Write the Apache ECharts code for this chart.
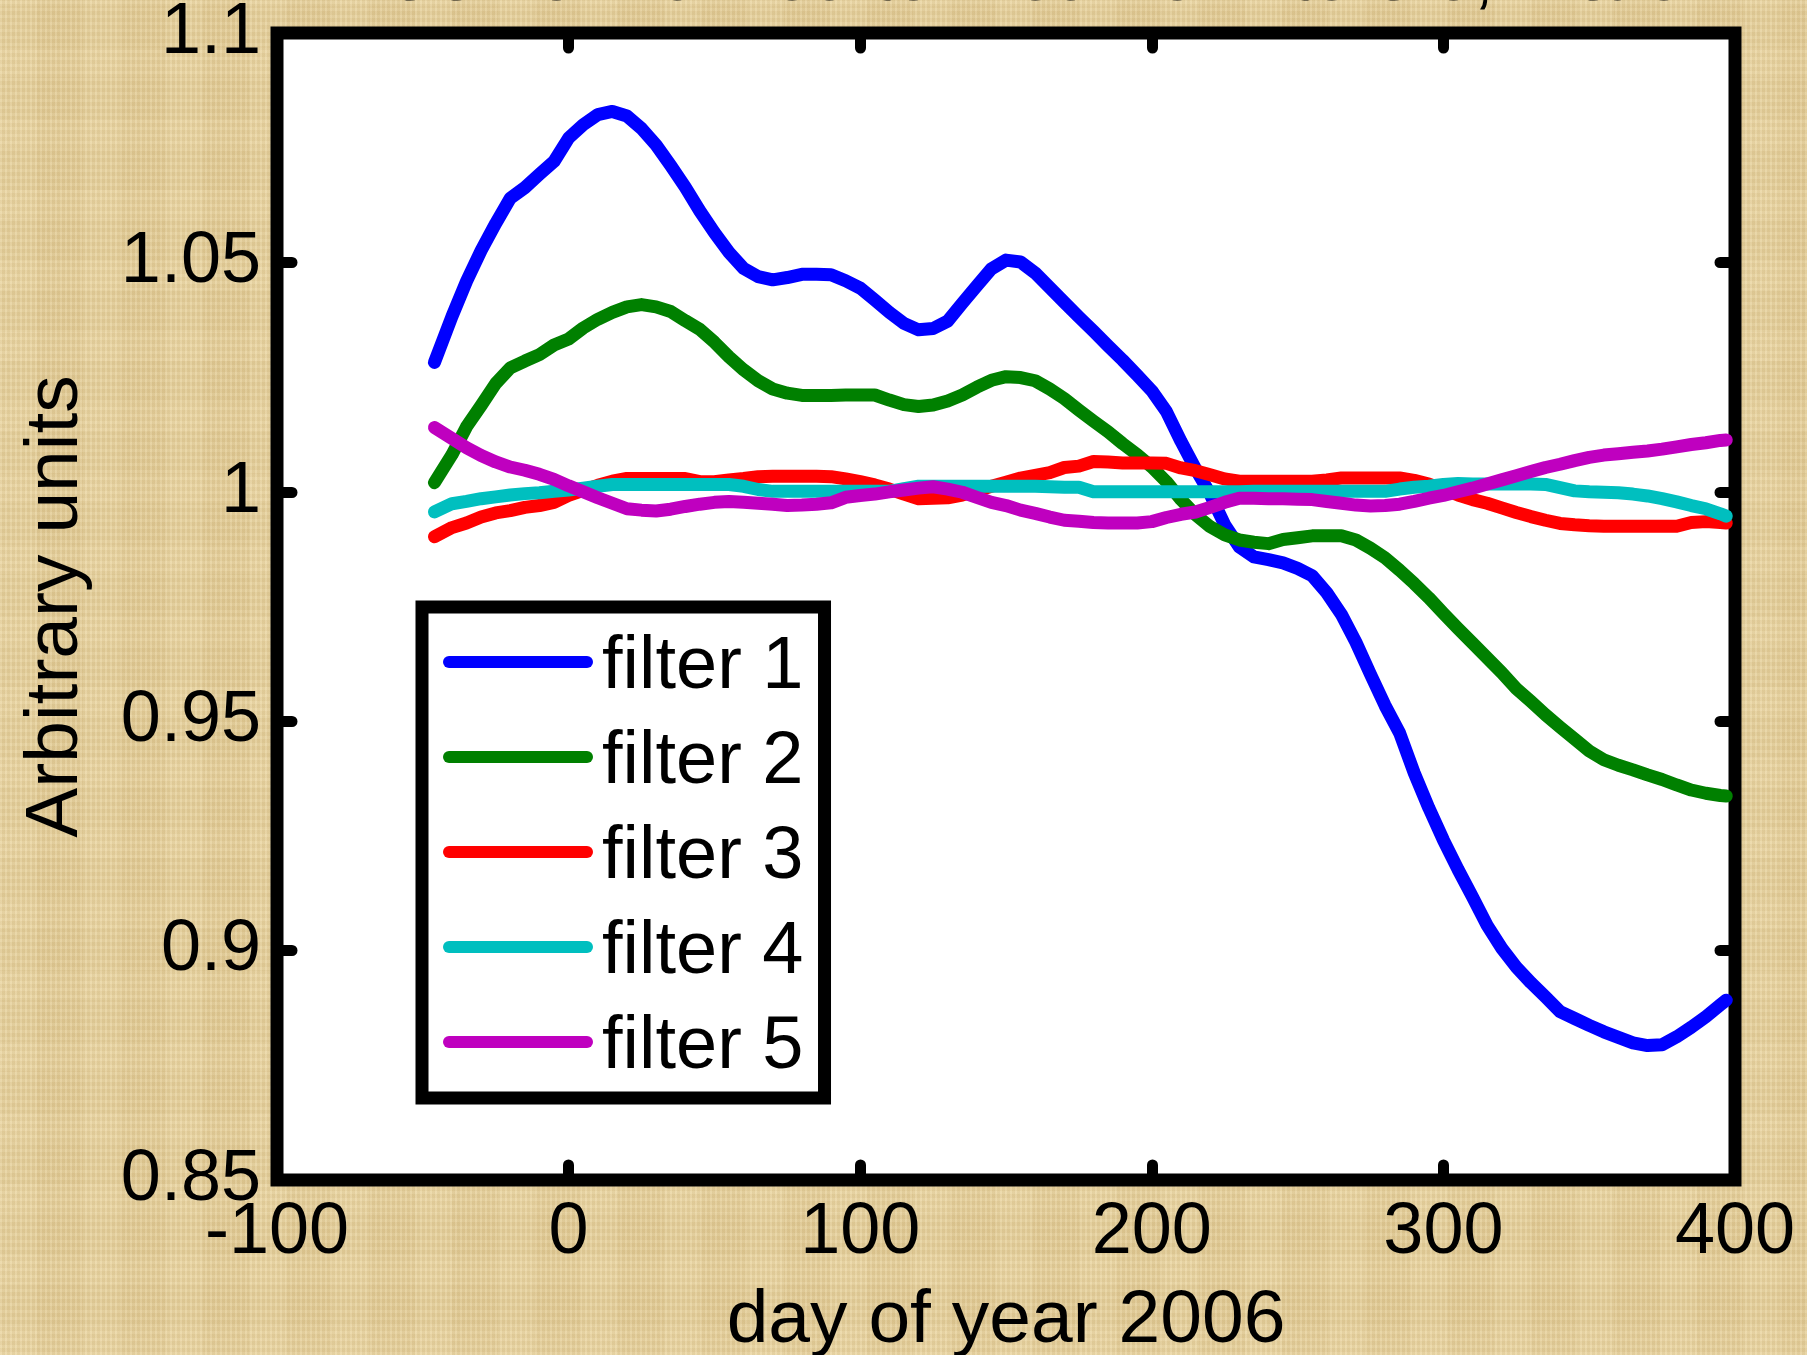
<!DOCTYPE html>
<html>
<head>
<meta charset="utf-8">
<script src="https://cdn.jsdelivr.net/npm/echarts@6/dist/echarts.min.js"></script>
<style>
html, body { margin: 0; padding: 0; }
body {
  width: 1807px; height: 1355px; overflow: hidden;
  background-color: #e7d19d;
  background-image:
    repeating-linear-gradient(90deg, rgba(255,250,230,0.10) 0px, rgba(255,250,230,0.10) 2px, rgba(120,90,30,0.05) 2px, rgba(120,90,30,0.05) 5px),
    repeating-linear-gradient(0deg, rgba(255,250,230,0.08) 0px, rgba(255,250,230,0.08) 3px, rgba(120,90,30,0.04) 3px, rgba(120,90,30,0.04) 7px),
    repeating-linear-gradient(90deg, rgba(255,245,215,0.05) 0px, rgba(255,245,215,0.05) 37px, rgba(150,115,50,0.03) 37px, rgba(150,115,50,0.03) 83px),
    repeating-linear-gradient(0deg, rgba(255,245,215,0.04) 0px, rgba(255,245,215,0.04) 29px, rgba(150,115,50,0.03) 29px, rgba(150,115,50,0.03) 71px);
}
#chart { width: 1807px; height: 1355px; }
</style>
</head>
<body>
<div id="chart"></div>
<script>
// ---- data ----
var titleText = 'FOs normalized to mean of filters 3, 4 & 5';
var xName = 'day of year 2006';
var yName = 'Arbitrary units';
var seriesNames = ['filter 1', 'filter 2', 'filter 3', 'filter 4', 'filter 5'];

var days = [
  -46, -40, -35, -30, -25, -20, -15, -10, -5, 0,
  5, 10, 15, 20, 25, 30, 35, 40, 45, 50,
  55, 60, 65, 70, 75, 80, 85, 90, 95, 100,
  105, 110, 115, 120, 125, 130, 135, 140, 145, 150,
  155, 160, 165, 170, 175, 180, 185, 190, 195, 200,
  205, 210, 215, 220, 225, 230, 235, 240, 245, 250,
  255, 260, 265, 270, 275, 280, 285, 290, 295, 300,
  305, 310, 315, 320, 325, 330, 335, 340, 345, 350,
  355, 360, 365, 370, 375, 380, 385, 390, 395, 397
];

var filter1 = [
  1.0282, 1.0382, 1.0459, 1.0526, 1.0585, 1.0640, 1.0663, 1.0692, 1.0720, 1.0771,
  1.0800, 1.0822, 1.0829, 1.0819, 1.0792, 1.0756, 1.0711, 1.0664, 1.0612, 1.0565,
  1.0522, 1.0487, 1.0469, 1.0462, 1.0467, 1.0474, 1.0474, 1.0473, 1.0460, 1.0444,
  1.0418, 1.0391, 1.0367, 1.0353, 1.0356, 1.0372, 1.0411, 1.0449, 1.0486, 1.0505,
  1.0501, 1.0477, 1.0445, 1.0413, 1.0381, 1.0350, 1.0318, 1.0287, 1.0254, 1.0220,
  1.0175, 1.0110, 1.0050, 0.9995, 0.9928, 0.9880, 0.9858, 0.9852, 0.9845, 0.9833,
  0.9817, 0.9780, 0.9733, 0.9672, 0.9602, 0.9534, 0.9474, 0.9387, 0.9311, 0.9241,
  0.9177, 0.9117, 0.9055, 0.9005, 0.8964, 0.8930, 0.8899, 0.8867, 0.8852, 0.8837,
  0.8823, 0.8811, 0.8799, 0.8793, 0.8795, 0.8812, 0.8833, 0.8856, 0.8882, 0.8892
];
var filter2 = [
  1.0020, 1.0081, 1.0142, 1.0188, 1.0236, 1.0270, 1.0285, 1.0299, 1.0320, 1.0333,
  1.0357, 1.0376, 1.0391, 1.0403, 1.0408, 1.0403, 1.0393, 1.0373, 1.0354, 1.0326,
  1.0294, 1.0266, 1.0242, 1.0224, 1.0215, 1.0210, 1.0210, 1.0210, 1.0211, 1.0211,
  1.0211, 1.0200, 1.0190, 1.0186, 1.0189, 1.0198, 1.0211, 1.0228, 1.0243, 1.0251,
  1.0249, 1.0242, 1.0224, 1.0203, 1.0178, 1.0154, 1.0131, 1.0105, 1.0081, 1.0054,
  1.0022, 0.9983, 0.9950, 0.9924, 0.9906, 0.9895, 0.9890, 0.9887, 0.9896, 0.9900,
  0.9904, 0.9904, 0.9904, 0.9895, 0.9877, 0.9856, 0.9829, 0.9800, 0.9769, 0.9735,
  0.9702, 0.9670, 0.9638, 0.9606, 0.9571, 0.9543, 0.9514, 0.9487, 0.9461, 0.9435,
  0.9416, 0.9404, 0.9394, 0.9383, 0.9373, 0.9361, 0.9350, 0.9343, 0.9338, 0.9337
];
var filter3 = [
  0.9902, 0.9922, 0.9932, 0.9945, 0.9954, 0.9959, 0.9966, 0.9970, 0.9977, 0.9992,
  1.0003, 1.0014, 1.0023, 1.0029, 1.0029, 1.0029, 1.0029, 1.0029, 1.0022, 1.0022,
  1.0026, 1.0029, 1.0033, 1.0034, 1.0034, 1.0034, 1.0034, 1.0033, 1.0028, 1.0022,
  1.0015, 1.0006, 0.9995, 0.9985, 0.9986, 0.9987, 0.9993, 1.0002, 1.0012, 1.0021,
  1.0030, 1.0036, 1.0042, 1.0053, 1.0056, 1.0066, 1.0065, 1.0063, 1.0063, 1.0063,
  1.0062, 1.0052, 1.0046, 1.0037, 1.0028, 1.0023, 1.0023, 1.0023, 1.0023, 1.0023,
  1.0023, 1.0026, 1.0030, 1.0030, 1.0030, 1.0030, 1.0030, 1.0025, 1.0017, 1.0005,
  0.9993, 0.9983, 0.9975, 0.9965, 0.9955, 0.9946, 0.9938, 0.9931, 0.9928, 0.9926,
  0.9925, 0.9925, 0.9925, 0.9925, 0.9925, 0.9925, 0.9933, 0.9935, 0.9933, 0.9932
];
var filter4 = [
  0.9956, 0.9974, 0.9979, 0.9985, 0.9989, 0.9993, 0.9996, 0.9998, 1.0001, 1.0004,
  1.0008, 1.0012, 1.0016, 1.0016, 1.0016, 1.0016, 1.0016, 1.0016, 1.0016, 1.0016,
  1.0016, 1.0012, 1.0005, 1.0001, 1.0001, 1.0001, 1.0001, 1.0001, 1.0001, 1.0001,
  1.0001, 1.0001, 1.0007, 1.0012, 1.0012, 1.0012, 1.0012, 1.0012, 1.0012, 1.0012,
  1.0012, 1.0012, 1.0011, 1.0010, 1.0010, 1.0000, 1.0000, 1.0000, 1.0000, 1.0000,
  1.0000, 1.0000, 1.0000, 1.0000, 1.0000, 1.0000, 1.0001, 1.0001, 1.0001, 1.0001,
  1.0001, 1.0001, 1.0001, 1.0001, 1.0001, 1.0001, 1.0006, 1.0010, 1.0012, 1.0016,
  1.0018, 1.0017, 1.0017, 1.0017, 1.0017, 1.0017, 1.0016, 1.0009, 1.0002, 1.0000,
  0.9999, 0.9998, 0.9995, 0.9991, 0.9985, 0.9978, 0.9970, 0.9963, 0.9952, 0.9947
];
var filter5 = [
  1.0140, 1.0116, 1.0096, 1.0079, 1.0065, 1.0054, 1.0047, 1.0038, 1.0027, 1.0013,
  1.0000, 0.9987, 0.9975, 0.9963, 0.9960, 0.9958, 0.9962, 0.9968, 0.9973, 0.9977,
  0.9979, 0.9977, 0.9975, 0.9973, 0.9970, 0.9971, 0.9973, 0.9976, 0.9988, 0.9992,
  0.9995, 1.0000, 1.0004, 1.0008, 1.0011, 1.0006, 0.9999, 0.9988, 0.9977, 0.9970,
  0.9960, 0.9953, 0.9945, 0.9938, 0.9936, 0.9933, 0.9932, 0.9932, 0.9932, 0.9935,
  0.9944, 0.9951, 0.9956, 0.9966, 0.9977, 0.9986, 0.9986, 0.9985, 0.9985, 0.9984,
  0.9983, 0.9979, 0.9975, 0.9971, 0.9969, 0.9970, 0.9973, 0.9979, 0.9986, 0.9992,
  1.0000, 1.0008, 1.0017, 1.0026, 1.0035, 1.0044, 1.0053, 1.0060, 1.0068, 1.0075,
  1.0080, 1.0083, 1.0086, 1.0089, 1.0093, 1.0098, 1.0103, 1.0107, 1.0112, 1.0113
];

var xTicks = { min: -100, max: 400, interval: 100 };
var yTicks = { min: 0.85, max: 1.1, interval: 0.05 };
var colors = ['#0000ff', '#008000', '#ff0000', '#00bfbf', '#bf00bf'];

// ---- chart ----
var FONT = '"Liberation Sans", Arial, Helvetica, sans-serif';
var allValues = [filter1, filter2, filter3, filter4, filter5];

function pairs(vals) {
  return days.map(function (d, i) { return [d, vals[i]]; });
}
function tickStyle() {
  return { show: true, inside: true, length: 15, lineStyle: { color: '#000', width: 11, cap: 'round' } };
}
function noLine() { return { show: false, onZero: false }; }

// legend swatch: a rounded bar in the upper half of a 150x24 box
var legendIcon = 'path://M6,0 L144,0 A6,6 0 0 1 144,12 L6,12 A6,6 0 0 1 6,0 Z M0,0 L0,0 M150,24 L150,24';

var chart = echarts.init(document.getElementById('chart'), null, { renderer: 'canvas' });
chart.setOption({
  backgroundColor: 'transparent',
  animation: false,
  color: colors,
  title: {
    text: titleText,
    left: 1006,
    textAlign: 'center',
    top: -62,
    textStyle: { fontFamily: FONT, fontSize: 73, fontWeight: 'normal', color: '#000' }
  },
  grid: {
    left: 277, right: 72, top: 33, bottom: 175,
    containLabel: false,
    outerBoundsMode: 'none',
    show: true,
    backgroundColor: '#ffffff',
    borderColor: '#000000',
    borderWidth: 13
  },
  legend: {
    orient: 'vertical',
    left: 422, top: 607,
    padding: [24, 21, 13, 21],
    itemGap: 21,
    itemWidth: 150,
    itemHeight: 24,
    icon: legendIcon,
    symbolKeepAspect: false,
    backgroundColor: '#ffffff',
    borderColor: '#000000',
    borderWidth: 13,
    borderRadius: 0,
    selectedMode: false,
    textStyle: { fontFamily: FONT, fontSize: 74, color: '#000', padding: [0, 0, 0, 4] },
    data: seriesNames
  },
  xAxis: [
    {
      type: 'value', position: 'bottom',
      min: xTicks.min, max: xTicks.max, interval: xTicks.interval,
      name: xName, nameLocation: 'middle', nameGap: 104,
      nameTextStyle: { fontFamily: FONT, fontSize: 75, color: '#000' },
      axisLine: noLine(),
      axisTick: tickStyle(),
      splitLine: { show: false },
      axisLabel: { show: true, margin: 17, fontFamily: FONT, fontSize: 72, color: '#000', showMinLabel: true, showMaxLabel: true }
    },
    {
      type: 'value', position: 'top',
      min: xTicks.min, max: xTicks.max, interval: xTicks.interval,
      axisLine: noLine(),
      axisTick: tickStyle(),
      splitLine: { show: false },
      axisLabel: { show: false }
    }
  ],
  yAxis: [
    {
      type: 'value', position: 'left',
      min: yTicks.min, max: yTicks.max, interval: yTicks.interval,
      name: yName, nameLocation: 'middle', nameGap: 183,
      nameTextStyle: { fontFamily: FONT, fontSize: 75, color: '#000' },
      axisLine: noLine(),
      axisTick: tickStyle(),
      splitLine: { show: false },
      axisLabel: {
        show: true, margin: 16, fontFamily: FONT, fontSize: 72, color: '#000',
        showMinLabel: true, showMaxLabel: true,
        formatter: function (v) { return String(+v.toFixed(2)); }
      }
    },
    {
      type: 'value', position: 'right',
      min: yTicks.min, max: yTicks.max, interval: yTicks.interval,
      axisLine: noLine(),
      axisTick: tickStyle(),
      splitLine: { show: false },
      axisLabel: { show: false }
    }
  ],
  series: seriesNames.map(function (name, i) {
    return {
      name: name,
      type: 'line',
      xAxisIndex: 0, yAxisIndex: 0,
      data: pairs(allValues[i]),
      symbol: 'none',
      showSymbol: false,
      smooth: false,
      lineStyle: { width: 13, color: colors[i], cap: 'round', join: 'round' },
      itemStyle: { color: colors[i] },
      z: 3 + i
    };
  })
});
</script>
</body>
</html>
